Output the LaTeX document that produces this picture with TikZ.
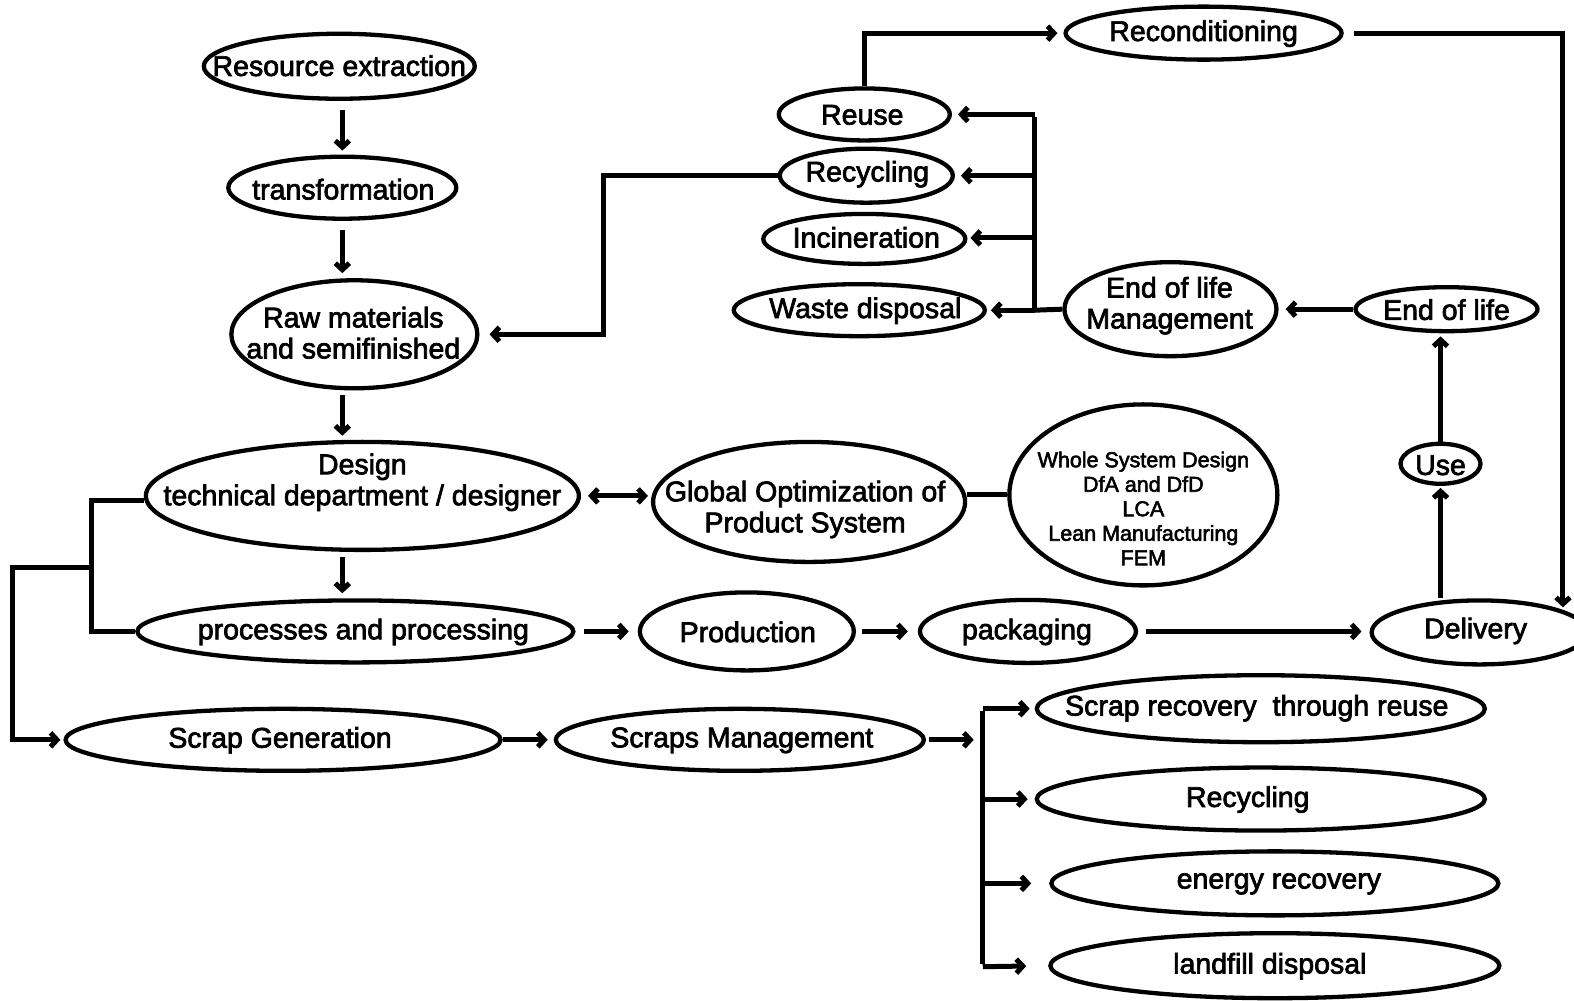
\documentclass[tikz,border=0pt]{standalone}
\usepackage{fontspec}
\usetikzlibrary{shapes.geometric,arrows.meta}
\newfontfamily\lblfont{Liberation Sans}[FakeBold=2.5]

% ellipse outline (empty) plus its label placed separately
\newcommand\lcnode[8]{%
  \node[elli, minimum width=#4pt, minimum height=#5pt] (#1) at (#2,#3) {};
  \node[lbl] (#1-t) at (#6,#7) {#8};}

\tikzset{
  elli/.style={draw, ellipse, line width=4.3pt, inner sep=0pt},
  lbl/.style={inner sep=0pt, align=center, yshift=-1.5pt, font=\lblfont\fontsize{28.5}{31}\selectfont},
  small/.style={font=\lblfont\fontsize{21.5}{24.5}\selectfont},
  link/.style={line width=5pt},
  arr/.style={link, -{Straight Barb[length=6.5pt,width=14pt]}},
  arrtwo/.style={link, {Straight Barb[length=6.5pt,width=14pt]}-{Straight Barb[length=6.5pt,width=14pt]}},
}

\begin{document}
\begin{tikzpicture}[x=1.00383pt,y=-1.00383pt]
\useasboundingbox (0,0) rectangle (1568,997);

% life-cycle stages
\lcnode{res}{338}{66}{271}{65}{338}{64}{Resource extraction}
\lcnode{tra}{341}{187}{228}{62}{342}{187}{transformation}
\lcnode{raw}{353}{333}{246}{108}{352}{330}{Raw materials\\and semifinished}
\lcnode{des}{361}{494}{433}{108}{361}{479}{Design\\technical department / designer}
\lcnode{glo}{806}{500}{312}{120}{802}{506}{Global Optimization of\\Product System}
\node[elli, minimum width=268pt, minimum height=181pt] (who) at (1139,493) {};
\node[lbl, small] (who-t) at (1139,505) {Whole System Design\\DfA and DfD\\LCA\\Lean Manufacturing\\FEM};
\lcnode{pro}{354}{629}{436}{62}{362}{628}{processes and processing}
\lcnode{prd}{744}{629}{214}{78}{745}{628}{Production}
\lcnode{pak}{1024}{629}{216}{63}{1023}{628}{packaging}
\lcnode{del}{1474}{630}{216}{64}{1470}{627}{Delivery}
\lcnode{use}{1435}{462}{80}{40}{1435}{462}{Use}
\lcnode{eol}{1441}{308}{182}{44}{1441}{307}{End of life}
\lcnode{eom}{1166}{308}{212}{94}{1165}{303}{End of life\\Management}
\lcnode{rec}{1199}{33}{276}{53}{1199}{32}{Reconditioning}
\lcnode{reu}{861}{114}{171}{52}{859}{113}{Reuse}
\lcnode{rcy}{863}{175}{173}{54}{864}{172}{Recycling}
\lcnode{inc}{861}{238}{202}{50}{863}{235}{Incineration}
\lcnode{was}{856}{309}{251}{52}{862}{308}{Waste disposal}
\lcnode{sgen}{282}{737}{435}{62}{279}{736}{Scrap Generation}
\lcnode{sman}{737}{737}{368}{62}{739}{736}{Scraps Management}
\lcnode{sa}{1256}{706}{448}{67}{1252}{704}{Scrap recovery\ \ through reuse}
\lcnode{sb}{1256}{796}{448}{63}{1243}{795}{Recycling}
\lcnode{sc}{1270}{880}{447}{64}{1274}{879}{energy recovery}
\lcnode{sd}{1270}{962}{449}{65}{1265}{961}{landfill disposal}

% routing points
\coordinate (rk) at (601,175);
\coordinate (rd) at (1557,33);
\coordinate (rdend) at (1557,605);
\coordinate (eb1) at (1031,114);
\coordinate (eb2) at (1031,175);
\coordinate (eb3) at (1031,237);
\coordinate (eb4) at (1031,309);
\coordinate (db1) at (91,499);
\coordinate (db2) at (91,629);
\coordinate (db3) at (91,565);
\coordinate (db4) at (12,565);
\coordinate (db5) at (12,737);
\coordinate (sm) at (970,737);
\coordinate (sb1) at (979,706);
\coordinate (sb2) at (979,796);
\coordinate (sb3) at (979,880);
\coordinate (sb4) at (979,963);

% main chain
\draw[arr, shorten <=9pt, shorten >=4pt] (tra.north |- res.south) -- (tra.north);
\draw[arr, shorten <=9pt, shorten >=5pt] (tra.south) -- (tra.south |- raw.north);
\draw[arr, shorten <=5pt, shorten >=4pt] (tra.south |- raw.south) -- (tra.south |- des.north);
\draw[arr, shorten <=5pt, shorten >=5pt] (tra.south |- des.south) -- (tra.south |- pro.north);
\draw[arrtwo, shorten <=7pt, shorten >=3pt] (des.east) -- (des.east -| glo.west);
\draw[link] (who.west -| glo.east) -- (who.west);
\draw[arr, shorten <=8pt, shorten >=9pt] (pro.east) -- (prd.west);
\draw[arr, shorten <=6pt, shorten >=10pt] (prd.east) -- (prd.east -| pak.west);
\draw[arr, shorten <=8pt, shorten >=8pt] (pak.east) -- (pak.east -| del.west);

% use and end of life
\draw[arr, shorten >=2pt] (use.south |- del.north) -- (use.south);
\draw[arr, shorten >=3pt] (use.north) -- (use.north |- eol.south);
\draw[arr, shorten >=7pt] (eol.west) -- (eom.west -| eom.east);
\draw[link] (eom.west) -- (eb4);
\draw[link] (eb4) -- ([yshift=-2.5pt]eb1);
\draw[arr, shorten >=6pt] (eb1) -- (eb1 -| reu.east);
\draw[arr, shorten >=6pt] (eb2) -- (eb2 -| rcy.east);
\draw[arr, shorten >=3pt] (eb3) -- (eb3 -| inc.east);
\draw[arr, shorten >=4pt] (eb4) -- (eb4 -| was.east);

% recovery loops
\draw[arr, shorten >=10pt] (rcy.west) -- (rk) |- (raw.east);
\draw[arr, shorten >=6pt] (reu.north) |- (rec.west);
\draw[arr, shorten <=10pt] (rec.east) -- (rd) -- (rdend);

% scrap branch
\draw[link] (des.west |- db1) -- (db1) -- (db2) -- (pro.west);
\draw[arr, shorten >=3pt] (db3) -- (db4) -- (db5) -- (sgen.west);
\draw[arr, shorten >=6pt] (sgen.east) -- (sman.west);
\draw[arr, shorten <=3pt] (sman.east) -- (sm);
\draw[link] ([yshift=-2.5pt]sb1) -- ([yshift=2.5pt]sb4);
\draw[arr, shorten >=5pt] (sb1) -- (sa.west);
\draw[arr, shorten >=7pt] (sb2) -- (sb.west);
\draw[arr, shorten >=18pt] (sb3) -- (sc.west);
\draw[arr, shorten >=22pt] (sb4) -- (sd.west);
\end{tikzpicture}
\end{document}
